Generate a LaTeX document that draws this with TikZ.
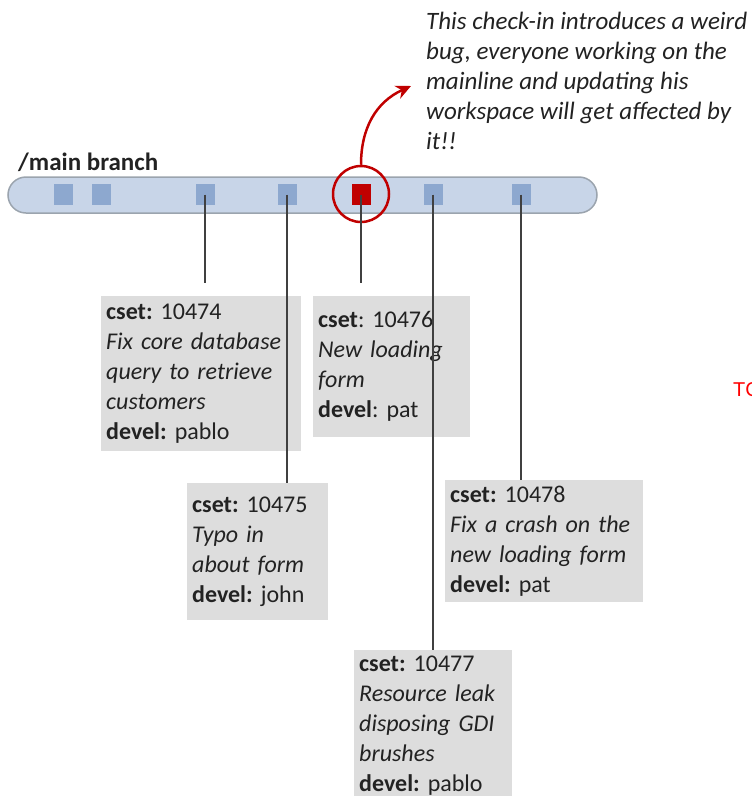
\documentclass[tikz,border=0pt]{standalone}
\usepackage{fontspec}
\setmainfont{Carlito}
\newfontfamily\arialfont{Liberation Sans}
\usetikzlibrary{arrows.meta}
\definecolor{barfill}{HTML}{C8D5E8}
\definecolor{barline}{HTML}{9BA4AE}
\definecolor{csetblue}{HTML}{8DA8CF}
\definecolor{bugred}{HTML}{C00000}
\definecolor{notegray}{HTML}{DDDDDD}
\definecolor{wire}{HTML}{404040}
\definecolor{ink}{HTML}{222222}
\frenchspacing

\begin{document}
\begin{tikzpicture}[x=1pt,y=-1pt,
  cset/.style={fill=csetblue, minimum width=19pt, minimum height=21pt, inner sep=0pt},
  note/.style={fill=notegray, anchor=north west, align=left, inner xsep=5pt,
               inner ysep=0pt, font=\fontsize{24}{30}\selectfont, text=ink},
  wirestyle/.style={draw=wire, line width=2pt},
  ]
\useasboundingbox (0,0) rectangle (752,796);

% branch label and bar
\node[anchor=base west, inner sep=0pt, text=ink,
      font=\bfseries\fontsize{25}{28}\selectfont] (label) at (18,170) {/main branch};
\node[draw=barline, fill=barfill, line width=1.5pt, rounded corners=18pt,
      minimum width=589pt, minimum height=36pt, inner sep=0pt] (branch) at (302.5,195) {};

% changesets on the branch
\node[cset] (s1) at (63,194.5) {};
\node[cset] (s2) at (101,194.5) {};
\node[cset] (s3) at (205,194.5) {};
\node[cset] (s4) at (287,194.5) {};
\node[cset, fill=bugred] (s5) at (361,194.5) {};
\node[cset] (s6) at (433,194.5) {};
\node[cset] (s7) at (521,194.5) {};

% the faulty check-in
\node[draw=bugred, line width=2.5pt, circle, minimum size=56pt, inner sep=0pt] (ring) at (361,194) {};
\coordinate (noteptr) at (411,86);
\draw[bugred, line width=2.5pt, -{Stealth[length=15pt,width=14pt]}]
  (ring.north) .. controls (361,128) and (376,102) .. (noteptr);
\node[anchor=north west, inner sep=0pt, align=left, text=ink,
      font=\itshape\fontsize{25}{30}\selectfont] (bugnote) at (426,12)
  {This check-in introduces a weird\\bug, everyone working on the\\mainline and updating his\\workspace will get affected by\\it!!};

% changeset descriptions
\node[note, text width=190pt, minimum height=155pt] (b74) at (101,296)
  {\textbf{cset:} 10474\\\textit{Fix core database}\\\textit{query to retrieve}\\\textit{customers}\\\textbf{devel:} pablo};
\node[note, text width=147pt, minimum height=141pt] (b76) at (313,296)
  {\textbf{cset}: 10476\\\textit{New loading}\\\textit{form}\\\textbf{devel}: pat};
\node[note, text width=131pt, minimum height=137pt] (b75) at (187,483)
  {\textbf{cset:} 10475\\\textit{Typo in}\\\textit{about form}\\\textbf{devel:} john};
\node[note, text width=188pt, minimum height=122pt] (b78) at (445,480)
  {\textbf{cset:} 10478\\\textit{Fix a crash on the}\\\textit{new loading form}\\\textbf{devel:} pat};
\node[note, text width=148pt, minimum height=150pt] (b77) at (354,650)
  {\textbf{cset:} 10477\\\textit{Resource leak}\\\textit{disposing GDI}\\\textit{brushes}\\\textbf{devel:} pablo};

% connectors from changesets to their descriptions
\coordinate (e74) at (205,283);
\coordinate (e76) at (361,283);
\draw[wirestyle] (s3.center) -- (e74);
\draw[wirestyle] (s4.center) -- (s4.center |- b75.north);
\draw[wirestyle] (s5.center) -- (e76);
\draw[wirestyle] (s6.center) -- (s6.center |- b77.north);
\draw[wirestyle] (s7.center) -- (s7.center |- b78.north);

% stray marker at the right edge
\node[anchor=west, inner sep=0pt, text=red, font=\arialfont\fontsize{20}{24}\selectfont] (tc) at (733,390) {TC};
\end{tikzpicture}
\end{document}
